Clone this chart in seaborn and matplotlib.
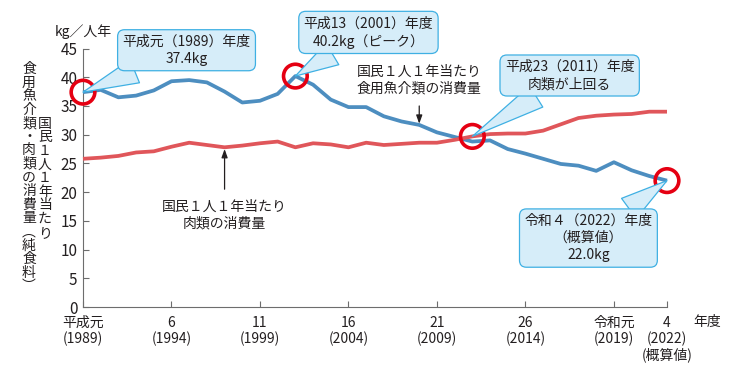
import matplotlib
matplotlib.use("Agg")
import matplotlib.pyplot as plt
import numpy as np
import pandas as pd
import seaborn as sns

# ---- data ----
years = list(range(1989, 2023))
fish = [37.4, 37.8, 36.5, 36.8, 37.7, 39.3, 39.5, 39.1, 37.5, 35.6, 35.9, 37.1,
        40.2, 38.7, 36.1, 34.8, 34.8, 33.2, 32.3, 31.7, 30.4, 29.6, 28.8, 29.0,
        27.5, 26.7, 25.8, 24.9, 24.6, 23.7, 25.2, 23.8, 22.8, 22.0]
meat = [25.8, 26.0, 26.3, 26.9, 27.1, 27.9, 28.6, 28.2, 27.8, 28.1, 28.5, 28.8,
        27.8, 28.5, 28.3, 27.8, 28.6, 28.2, 28.4, 28.6, 28.6, 29.1, 29.7, 30.1,
        30.2, 30.2, 30.7, 31.8, 32.9, 33.3, 33.5, 33.6, 34.0, 34.0]
xtick_years = [1989, 1994, 1999, 2004, 2009, 2014, 2019, 2022]
xtick_labels = ["平成元\n(1989)", "6\n(1994)", "11\n(1999)", "16\n(2004)",
                "21\n(2009)", "26\n(2014)", "令和元\n(2019)", "4\n(2022)\n(概算値)"]
yticks = [0, 5, 10, 15, 20, 25, 30, 35, 40, 45]
ylabel_col1 = "食用魚介類・肉類の消費量︵純食料︶"
ylabel_col2 = "国民１人１年当たり"
unit_label = "kg／人年"
xunit_label = "年度"

BLUE = "#4d8ec0"
RED = "#e0565a"
CIRC = "#e50012"
BOXF = "#d6edf9"
BOXE = "#3fb0e3"
TXT = "#231f20"
AXC = "#6d6d6d"

sns.set_style("ticks")
plt.rcParams["font.family"] = ["Noto Sans CJK JP", "DejaVu Sans"]

fig = plt.figure(figsize=(7.29, 3.65), dpi=100)
ax = fig.add_axes([83 / 729, 1 - 307 / 365, 584 / 729, 258.5 / 365])

df = pd.DataFrame({
    "year": years * 2,
    "value": fish + meat,
    "series": ["fish"] * len(years) + ["meat"] * len(years),
})
sns.lineplot(data=df, x="year", y="value", hue="series",
             palette={"fish": BLUE, "meat": RED}, linewidth=2.7,
             legend=False, ax=ax, zorder=3)
for ln in ax.lines:
    ln.set_clip_on(False)
    ln.set_solid_capstyle("butt")

# highlighted points (red circles)
hl = pd.DataFrame({
    "year": [1989, 2001, 2011, 2022],
    "value": [fish[years.index(1989)], fish[years.index(2001)],
              meat[years.index(2011)], fish[years.index(2022)]],
})
sns.scatterplot(data=hl, x="year", y="value", s=290, ax=ax, zorder=5,
                linewidth=2.6, clip_on=False, legend=False)
coll = ax.collections[-1]
coll.set_facecolor("none")
coll.set_edgecolor(CIRC)

ax.set_xlim(1989, 2022)
ax.set_ylim(0, 45)
ax.set_xticks(xtick_years)
ax.set_xticklabels(xtick_labels)
ax.set_yticks(yticks)
ax.set_xlabel("")
ax.set_ylabel("")
for s in ["top", "right"]:
    ax.spines[s].set_visible(False)
for s in ["left", "bottom"]:
    ax.spines[s].set_color(AXC)
    ax.spines[s].set_linewidth(0.8)
ax.tick_params(direction="in", length=4, width=0.8, color=AXC,
               labelcolor=TXT)
ax.tick_params(axis="y", labelsize=11, pad=4)
ax.tick_params(axis="x", labelsize=10, pad=6.5)
for lbl in ax.get_xticklabels():
    lbl.set_linespacing(1.1)


def callout(text, xy, xytext):
    ax.annotate(text, xy=xy, xytext=xytext, textcoords="data",
                ha="center", va="center", fontsize=10, color=TXT,
                linespacing=1.3, annotation_clip=False, zorder=6,
                bbox=dict(boxstyle="round,pad=0.35,rounding_size=0.5",
                          fc=BOXF, ec=BOXE, lw=0.9),
                arrowprops=dict(arrowstyle="wedge,tail_width=1.8,shrink_factor=0.5",
                                fc=BOXF, ec=BOXE, lw=0.9,
                                shrinkA=0, shrinkB=0))


callout(f"平成元（1989）年度\n{fish[0]}kg", (1989, fish[0]), (1994.85, 44.7))
callout(f"平成13（2001）年度\n{fish[years.index(2001)]}kg（ピーク）",
        (2001, fish[years.index(2001)]), (2005.13, 47.8))
callout("平成23（2011）年度\n肉類が上回る",
        (2011, meat[years.index(2011)]), (2016.5, 40.3))
callout(f"令和４（2022）年度\n（概算値）\n{fish[-1]:.1f}kg",
        (2022, fish[-1]), (2017.56, 12.0))

# series labels with arrows
ax.annotate("国民１人１年当たり\n食用魚介類の消費量",
            xy=(2008, fish[years.index(2008)] + 0.2), xytext=(2008, 39.5),
            ha="center", va="center", fontsize=10, color=TXT, linespacing=1.3,
            annotation_clip=False,
            arrowprops=dict(arrowstyle="-|>,head_length=0.5,head_width=0.18",
                            color=TXT, lw=0.9, shrinkA=5, shrinkB=0))
ax.annotate("国民１人１年当たり\n肉類の消費量",
            xy=(1997, meat[years.index(1997)] - 0.3), xytext=(1997, 16.0),
            ha="center", va="center", fontsize=10, color=TXT, linespacing=1.3,
            annotation_clip=False,
            arrowprops=dict(arrowstyle="-|>,head_length=0.5,head_width=0.18",
                            color=TXT, lw=0.9, shrinkA=5, shrinkB=0))

# vertical y-axis title (upright stacked characters)
W, H = 729, 365
step = 13.6
for i, ch in enumerate(ylabel_col1):
    fig.text(29 / W, 1 - (62 + step / 2 + i * step) / H, ch, ha="center",
             va="center", fontsize=10, color=TXT)
for i, ch in enumerate(ylabel_col2):
    fig.text(45 / W, 1 - (117 + step / 2 + i * step) / H, ch, ha="center",
             va="center", fontsize=10, color=TXT)

fig.text(55 / W, 1 - 32 / H, unit_label, ha="left", va="center",
         fontsize=10, color=TXT)
fig.text(693 / W, 1 - 322 / H, xunit_label, ha="left", va="center",
         fontsize=10, color=TXT)

fig.savefig("out.png", dpi=100)
